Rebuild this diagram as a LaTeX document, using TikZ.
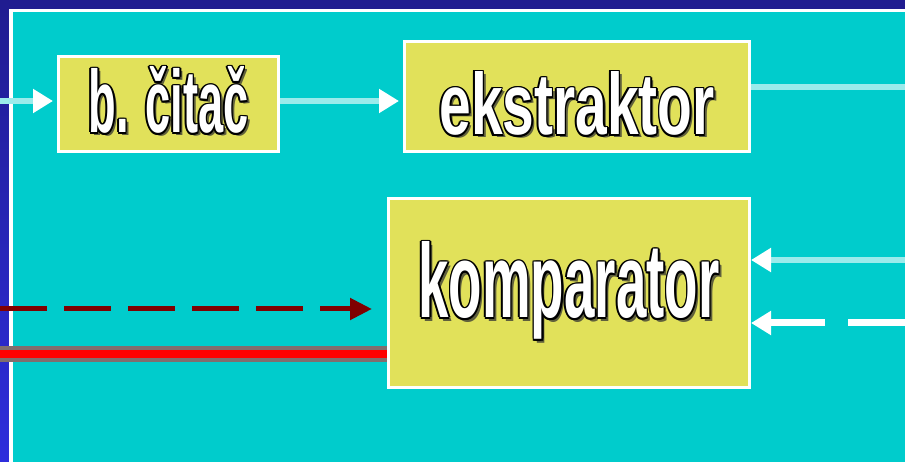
\documentclass[tikz,border=0pt]{standalone}
\usepackage{fontspec}
\setmainfont{Liberation Sans}
\usetikzlibrary{arrows.meta}
\definecolor{navyrim}{RGB}{32,28,144}
\definecolor{bluerim}{RGB}{46,46,220}
\definecolor{panelcyan}{RGB}{0,204,204}
\definecolor{boxyellow}{RGB}{225,225,90}
\definecolor{paleline}{RGB}{155,235,235}
\definecolor{darkred}{RGB}{128,0,0}
\definecolor{redrim}{RGB}{128,110,110}
\definecolor{lettershade}{RGB}{95,95,60}

\newcommand{\embossed}[1]{%
  \leavevmode
  \rlap{\kern3pt\raisebox{-3pt}{\color{lettershade}#1}}%
  \rlap{\kern-1.6pt\color{black}#1}%
  \rlap{\kern1.6pt\color{black}#1}%
  \rlap{\raisebox{1.6pt}{\color{black}#1}}%
  \rlap{\raisebox{-1.6pt}{\color{black}#1}}%
  \rlap{\kern-1.1pt\raisebox{1.1pt}{\color{black}#1}}%
  \rlap{\kern1.1pt\raisebox{1.1pt}{\color{black}#1}}%
  \rlap{\kern-1.1pt\raisebox{-1.1pt}{\color{black}#1}}%
  \rlap{\kern1.1pt\raisebox{-1.1pt}{\color{black}#1}}%
  {\color{white}#1}}
\newcommand{\blocktext}[3]{\embossed{\resizebox{#1}{#2}{\bfseries #3}}}

\begin{document}
\begin{tikzpicture}[
  x=1pt, y=-1pt,
  block/.style={draw=white, line width=3pt, fill=boxyellow, inner sep=0pt, text depth=0pt},
  feed/.style={paleline, line width=6pt},
  whitetip/.style={-{Triangle[length=20pt,width=23pt,color=white]}}
]
  \useasboundingbox (0,0) rectangle (905,462);
  \fill[panelcyan] (0,0) rectangle (905,462);
  \fill[navyrim] (0,0) rectangle (905,9);
  \shade[top color=navyrim, bottom color=bluerim] (0,0) rectangle (9,462);
  \fill[white] (9,9) rectangle (905,12.5);
  \fill[white] (9,9) rectangle (12.5,462);

  \node[block, minimum width=220pt, minimum height=95pt, text height=58pt] (citac) at (168.5,104) {\blocktext{160pt}{66pt}{b. čitač}};
  \node[block, minimum width=345pt, minimum height=110pt, text height=77pt] (ekstr) at (577,96.5) {\blocktext{275pt}{63pt}{ekstraktor}};
  \node[block, minimum width=361pt, minimum height=189pt, text height=70pt, text depth=20pt] (komp) at (569,293) {\blocktext{301pt}{76pt}{komparator}};

  \coordinate (feedin) at (0,101);
  \coordinate (ekout) at (905,87);
  \coordinate (refin) at (905,260);
  \coordinate (cmpin) at (905,323);
  \coordinate (ctrlin) at (0,309);
  \coordinate (datain) at (0,354);

  \draw[feed, whitetip, shorten >=4pt] (feedin) -- (feedin -| citac.west);
  \draw[feed, whitetip, shorten >=4pt] (citac.east |- feedin) -- (ekstr.west |- feedin);
  \draw[feed] (ekstr.east |- ekout) -- (ekout);
  \draw[feed, whitetip] (refin) -- (refin -| komp.east);
  \draw[white, line width=7pt, dash pattern=on 57pt off 23pt, whitetip] (cmpin) -- (cmpin -| komp.east);
  \draw[darkred, line width=5pt, dash pattern=on 47pt off 17pt, -{Triangle[length=22pt,width=21pt]}, shorten >=15pt] (ctrlin) -- (ctrlin -| komp.west);
  \draw[red, line width=8pt, preaction={draw=redrim, line width=16pt}] (datain) -- (datain -| komp.west);
\end{tikzpicture}
\end{document}
